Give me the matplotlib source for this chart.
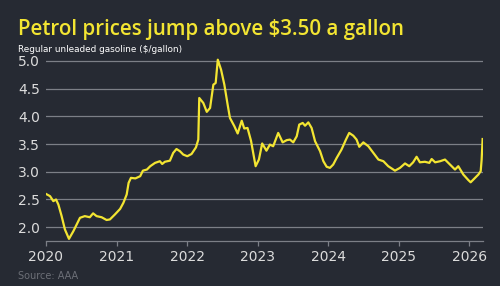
import matplotlib
matplotlib.use("Agg")
import matplotlib.pyplot as plt
import pandas as pd

# weekly-ish average US regular gasoline price
dates = [
    "2020-01-01", "2020-01-22", "2020-02-08", "2020-02-22", "2020-03-05",
    "2020-03-22", "2020-04-08", "2020-04-29", "2020-05-22", "2020-06-08",
    "2020-06-25", "2020-07-20", "2020-08-15", "2020-09-01", "2020-09-19",
    "2020-10-15", "2020-11-10", "2020-11-27", "2020-12-23", "2021-01-19",
    "2021-02-05", "2021-02-22", "2021-03-04", "2021-03-16", "2021-04-08",
    "2021-05-03", "2021-05-17", "2021-06-07", "2021-06-24", "2021-07-19",
    "2021-08-13", "2021-08-25", "2021-09-08", "2021-10-04", "2021-10-21",
    "2021-11-07", "2021-11-25", "2021-12-12", "2022-01-02", "2022-01-24",
    "2022-02-16", "2022-02-28", "2022-03-05", "2022-03-26", "2022-04-13",
    "2022-04-30", "2022-05-17", "2022-05-29", "2022-06-09", "2022-06-26",
    "2022-07-13", "2022-07-30", "2022-08-11", "2022-09-03", "2022-09-20",
    "2022-10-11", "2022-10-24", "2022-11-10", "2022-11-28", "2022-12-22",
    "2023-01-08", "2023-01-25", "2023-02-16", "2023-03-06", "2023-03-23",
    "2023-04-18", "2023-05-11", "2023-06-01", "2023-06-18", "2023-07-05",
    "2023-07-23", "2023-08-05", "2023-08-23", "2023-09-04", "2023-09-21",
    "2023-10-08", "2023-10-26", "2023-11-21", "2023-12-08", "2023-12-25",
    "2024-01-11", "2024-01-28", "2024-02-15", "2024-03-11", "2024-04-03",
    "2024-04-20", "2024-05-11", "2024-05-28", "2024-06-11", "2024-07-02",
    "2024-07-28", "2024-08-23", "2024-09-18", "2024-10-14", "2024-11-08",
    "2024-12-13", "2025-01-08", "2025-02-03", "2025-02-25", "2025-03-17",
    "2025-04-04", "2025-04-21", "2025-05-17", "2025-06-09", "2025-06-21",
    "2025-07-09", "2025-08-04", "2025-08-29", "2025-09-24", "2025-10-20",
    "2025-11-06", "2025-12-02", "2025-12-28", "2026-01-09", "2026-02-01",
    "2026-02-18", "2026-03-02", "2026-03-07", "2026-03-12",
]
prices = [
    2.60, 2.56, 2.47, 2.50, 2.41,
    2.20, 1.96, 1.79, 1.93, 2.05,
    2.17, 2.20, 2.18, 2.25, 2.20,
    2.18, 2.13, 2.14, 2.23, 2.33,
    2.44, 2.59, 2.80, 2.89, 2.88,
    2.92, 3.02, 3.04, 3.10, 3.16,
    3.19, 3.14, 3.18, 3.20, 3.34,
    3.41, 3.37, 3.31, 3.28, 3.32,
    3.44, 3.58, 4.33, 4.24, 4.08,
    4.15, 4.57, 4.60, 5.02, 4.84,
    4.57, 4.21, 3.97, 3.82, 3.69,
    3.92, 3.78, 3.79, 3.56, 3.10,
    3.22, 3.51, 3.38, 3.49, 3.46,
    3.70, 3.53, 3.57, 3.58, 3.53,
    3.64, 3.85, 3.88, 3.83, 3.89,
    3.79, 3.55, 3.37, 3.19, 3.09,
    3.07, 3.13, 3.25, 3.40, 3.58,
    3.70, 3.65, 3.58, 3.45, 3.53,
    3.46, 3.34, 3.22, 3.19, 3.10,
    3.02, 3.07, 3.15, 3.10, 3.17,
    3.27, 3.17, 3.18, 3.16, 3.23,
    3.17, 3.19, 3.22, 3.13, 3.04,
    3.10, 2.95, 2.85, 2.81, 2.89,
    2.95, 3.01, 3.22, 3.59,
]
year_ticks = ["2020", "2021", "2022", "2023", "2024", "2025", "2026"]
y_ticks = [2.0, 2.5, 3.0, 3.5, 4.0, 4.5, 5.0]

bg = "#262a33"
yellow = "#f3e532"
grid_col = "#7c7f87"
label_col = "#dcdcdc"

x = pd.to_datetime(dates)

fig = plt.figure(figsize=(5, 2.86), dpi=100, facecolor=bg)
ax = fig.add_axes([0.092, 0.159, 0.874, 0.638], facecolor=bg)

ax.plot(x, prices, color=yellow, lw=1.6, solid_joinstyle="round", zorder=3)

ax.set_xlim(pd.Timestamp("2020-01-01"), pd.Timestamp("2026-03-14"))
ax.set_ylim(1.76, 5.05)

ax.set_yticks(y_ticks)
ax.set_yticklabels(["{0:.1f}".format(v) for v in y_ticks])
ax.set_xticks(pd.to_datetime([y + "-01-01" for y in year_ticks]))
ax.set_xticklabels(year_ticks)

ax.grid(axis="y", color=grid_col, lw=0.9)
ax.set_axisbelow(True)
for s in ["top", "right", "left"]:
    ax.spines[s].set_visible(False)
ax.spines["bottom"].set_color(grid_col)
ax.spines["bottom"].set_linewidth(0.9)

ax.tick_params(axis="y", length=0, pad=4.5, labelsize=10, labelcolor=label_col)
ax.tick_params(axis="x", length=3.6, width=0.9, color=grid_col, pad=3.5,
               labelsize=10, labelcolor=label_col)

fig.text(0.036, 0.879, "Petrol prices jump above $3.50 a gallon",
         color=yellow, fontsize=14.8, fontweight="semibold", family="Open Sans")
fig.text(0.036, 0.817, "Regular unleaded gasoline ($/gallon)",
         color="white", fontsize=6.4)
fig.text(0.036, 0.025, "Source: AAA", color="#6c6f77", fontsize=7)

fig.savefig("out.png", dpi=100, facecolor=bg)
